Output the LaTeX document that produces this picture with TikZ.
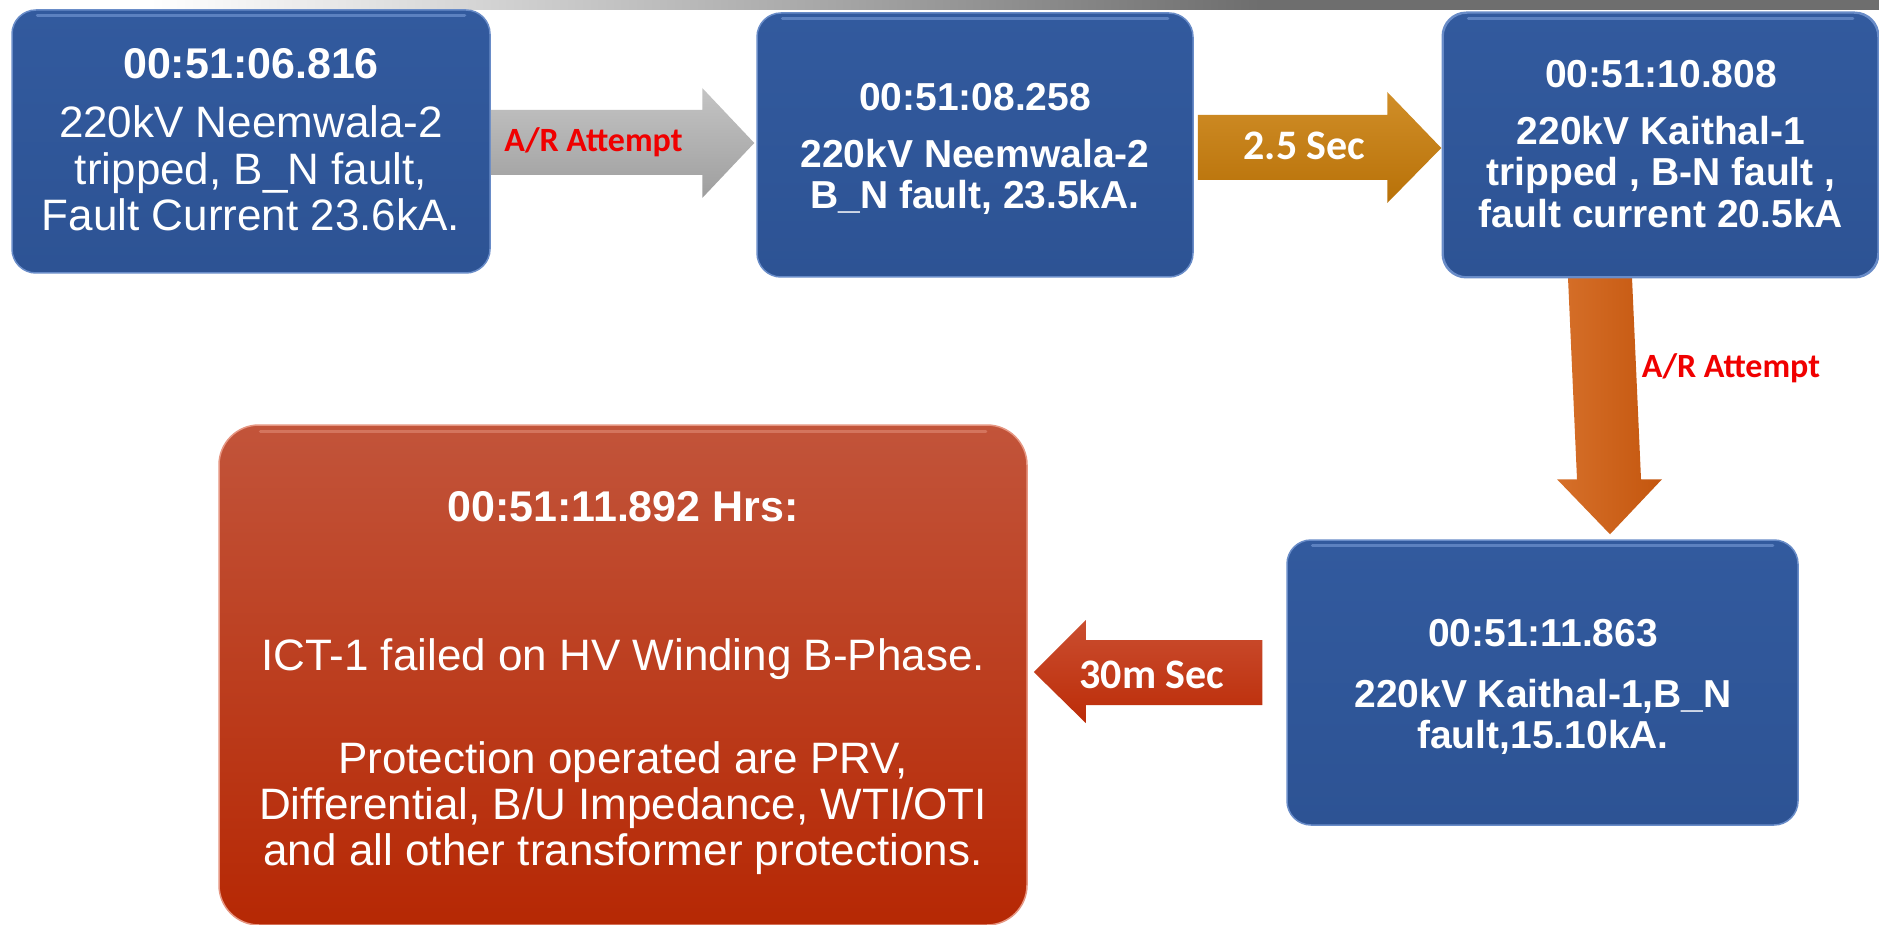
\documentclass[tikz,border=0pt]{standalone}
\usepackage{fontspec}
\setmainfont{Liberation Sans}
\newfontfamily\calib{Carlito}
\usetikzlibrary{calc}
\definecolor{boxblue}{RGB}{45,83,148}
\definecolor{boxbluetop}{RGB}{50,90,158}
\definecolor{boxrim}{RGB}{105,140,200}
\definecolor{boxgloss}{RGB}{120,155,215}
\definecolor{redtop}{RGB}{194,84,58}
\definecolor{redbot}{RGB}{182,40,4}
\definecolor{redrim}{RGB}{230,150,130}
\definecolor{graytop}{RGB}{196,196,196}
\definecolor{graybot}{RGB}{158,158,158}
\definecolor{goldtop}{RGB}{208,142,40}
\definecolor{goldbot}{RGB}{184,113,8}
\definecolor{ortop}{RGB}{214,112,42}
\definecolor{orbot}{RGB}{196,86,14}
\definecolor{rarrtop}{RGB}{202,78,48}
\definecolor{rarrbot}{RGB}{188,44,8}
\definecolor{lblred}{RGB}{240,0,0}
\definecolor{bardark}{RGB}{110,110,110}
\begin{document}
\begin{tikzpicture}[x=1pt,y=-1pt,
  bluebox/.style={rounded corners=24pt, top color=boxbluetop, bottom color=boxblue,
    draw=boxrim, line width=1.5pt, inner sep=0pt},
  redbox/.style={rounded corners=40pt, top color=redtop, bottom color=redbot,
    draw=redrim, line width=1.5pt, inner sep=0pt},
  gloss/.style={boxgloss, line width=3pt, opacity=0.6, line cap=round},
  ttl/.style={anchor=base, inner sep=0pt, text=white, font=\bfseries\fontsize{39}{41}\selectfont},
  bodyb/.style={anchor=base, inner sep=0pt, text=white, font=\bfseries\fontsize{39}{41}\selectfont},
  bodyr/.style={anchor=base, inner sep=0pt, text=white, font=\fontsize{44}{46}\selectfont},
  arrlbl/.style={anchor=base, inner sep=0pt, text=lblred, font=\calib\bfseries\fontsize{34}{36}\selectfont},
  arrtxt/.style={anchor=base, inner sep=0pt, text=white, font=\calib\bfseries\fontsize{42}{44}\selectfont}
]
\useasboundingbox (0,0) rectangle (1879,925);
\fill[white] (0,0) rectangle (1879,925);
% top bar
\shade[left color=white, right color=bardark] (150,0) rectangle (1260,10);
\fill[bardark] (1260,0) rectangle (1879,10);

% boxes (shapes)
\node[bluebox, minimum width=478pt, minimum height=263pt] (b1) at (251,141.5) {};
\node[bluebox, minimum width=436pt, minimum height=264pt] (b2) at (975,145) {};
\node[bluebox, minimum width=435pt, minimum height=264pt] (b3) at (1660.5,145) {};
\node[bluebox, minimum width=511pt, minimum height=285pt] (b4) at (1542.5,682.5) {};
\node[redbox, minimum width=808pt, minimum height=500pt] (r) at (623,675) {};

% glossy top highlights
\foreach \b in {b1,b2,b3,b4}{
  \draw[gloss] ($(\b.north west)+(26,6)$) -- ($(\b.north east)+(-26,6)$);
}
\draw[redrim, line width=3pt, opacity=0.5, line cap=round] ($(r.north west)+(42,7)$) -- ($(r.north east)+(-42,7)$);

% gray arrow b1 -> b2
\shade[top color=graytop, bottom color=graybot]
  let \p1=(b1.east), \p2=(b2.west) in
  (\x1,110) -- (\x2-54pt,110) -- (\x2-54pt,88) -- (\x2-2pt,143) -- (\x2-54pt,198)
  -- (\x2-54pt,175) -- (\x1,175) -- cycle;
% gold arrow b2 -> b3
\shade[top color=goldtop, bottom color=goldbot]
  let \p1=(b2.east), \p2=(b3.west) in
  (\x1+4pt,115) -- (\x2-55pt,115) -- (\x2-55pt,92) -- (\x2-1pt,148) -- (\x2-55pt,203)
  -- (\x2-55pt,180) -- (\x1+4pt,180) -- cycle;
% orange arrow b3 -> b4
\shade[left color=ortop, right color=orbot]
  let \p1=(b3.south), \p2=(b4.north) in
  (1568,\y1) -- (1632,\y1) -- (1641,\y2+60pt) -- (1662,\y2+60pt) -- (1610,\y2+5pt)
  -- (1557,\y2+60pt) -- (1577,\y2+60pt) -- cycle;
% red arrow b4 -> r
\shade[top color=rarrtop, bottom color=rarrbot]
  let \p1=(b4.west), \p2=(r.east) in
  (\x1-24pt,640) -- (\x2+58pt,640) -- (\x2+58pt,620) -- (\x2+6pt,672) -- (\x2+58pt,723)
  -- (\x2+58pt,705) -- (\x1-24pt,705) -- cycle;
% redraw box rim over arrow end
\draw[boxrim, line width=1.5pt, rounded corners=24pt] (b3.south west) rectangle (b3.north east);

% arrow labels
\node[arrlbl] (l1) at (593.5,152) {A/R Attempt};
\node[arrtxt] (l2) at (1304.5,160) {2.5 Sec};
\node[arrlbl] (l3) at (1731,377) {A/R Attempt};
\node[arrtxt] (l4) at (1152,688) {30m Sec};

% box 1 text
\node[ttl, font=\bfseries\fontsize{43}{45}\selectfont] (b1a) at (251,79) {00:51:06.816};
\node[bodyr] (b1b) at (251,138) {220kV Neemwala-2};
\node[bodyr] (b1c) at (251,185) {tripped, B\_N fault,};
\node[bodyr] (b1d) at (251,231) {Fault Current 23.6kA.};
% box 2 text
\node[ttl] (b2a) at (975,111) {00:51:08.258};
\node[bodyb] (b2b) at (975,168) {220kV Neemwala-2};
\node[bodyb] (b2c) at (975,209) {B\_N fault, 23.5kA.};
% box 3 text
\node[ttl] (b3a) at (1661,88) {00:51:10.808};
\node[bodyb] (b3b) at (1661,145) {220kV Kaithal-1};
\node[bodyb] (b3c) at (1661,186) {tripped , B-N fault ,};
\node[bodyb] (b3d) at (1661,228) {fault current 20.5kA};
% box 4 text
\node[ttl] (b4a) at (1543,646) {00:51:11.863};
\node[bodyb] (b4b) at (1543,707) {220kV Kaithal-1,B\_N};
\node[bodyb] (b4c) at (1543,748) {fault,15.10kA.};
% red box text
\node[ttl, font=\bfseries\fontsize{43}{45}\selectfont] (ra) at (623,521) {00:51:11.892 Hrs:};
\node[bodyr] (rb) at (623,670) {ICT-1 failed on HV Winding B-Phase.};
\node[bodyr] (rc) at (623,773) {Protection operated are PRV,};
\node[bodyr] (rd) at (623,819) {Differential, B/U Impedance, WTI/OTI};
\node[bodyr] (re) at (623,865) {and all other transformer protections.};
\end{tikzpicture}
\end{document}
